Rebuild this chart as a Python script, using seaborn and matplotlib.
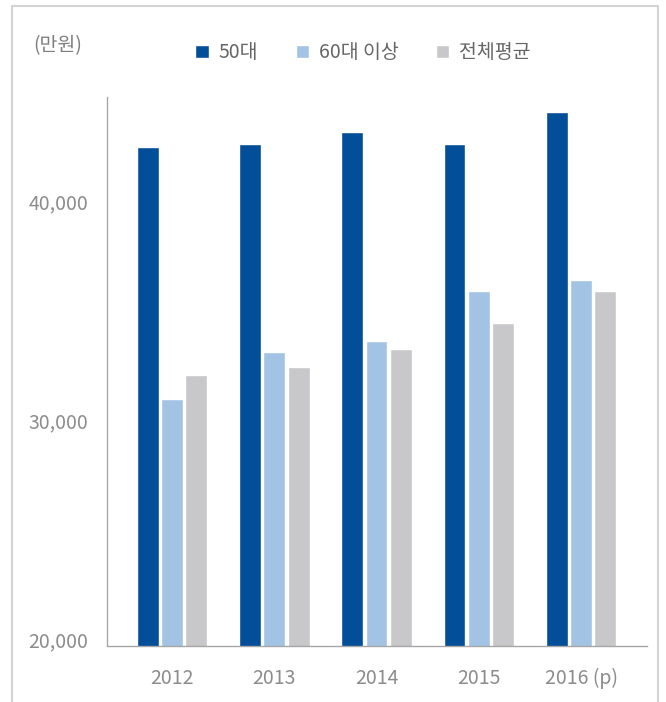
import matplotlib
matplotlib.use("Agg")
import matplotlib.pyplot as plt
from matplotlib.patches import Rectangle
from matplotlib.transforms import ScaledTranslation
import pandas as pd
import seaborn as sns

# 연령대별 가구 평균 (단위: 만원)
years = ["2012", "2013", "2014", "2015", "2016 (p)"]
series_names = ["50대", "60대 이상", "전체평균"]
age50 = [42760, 42900, 43430, 42900, 44350]
age60_plus = [31260, 33390, 33920, 36170, 36690]
overall = [32340, 32730, 33520, 34710, 36170]
y_ticks = [20000, 30000, 40000]
y_tick_labels = ["20,000", "30,000", "40,000"]
unit_label = "(만원)"

colors = ["#024E98", "#A3C3E5", "#C8C8CA"]

df = pd.DataFrame({
    "연도": years * 3,
    "구분": [series_names[0]] * 5 + [series_names[1]] * 5 + [series_names[2]] * 5,
    "값": age50 + age60_plus + overall,
})

sns.set_theme(style="white")
plt.rcParams["font.family"] = ["Noto Sans CJK KR", "DejaVu Sans"]

fig = plt.figure(figsize=(6.66, 7.02), dpi=100)
ax = fig.add_axes([107 / 666, 1 - 645.5 / 702, (647 - 107) / 666, (645.5 - 97) / 702])

sns.barplot(data=df, x="연도", y="값", hue="구분", palette=colors,
            width=0.714, gap=0.1, saturation=1, ax=ax, errorbar=None)

ax.set_ylim(20000, 45046)
ax.set_xlim(-0.636, 4.645)
ax.set_xlabel("")
ax.set_ylabel("")
ax.set_yticks(y_ticks)
ax.set_yticklabels(y_tick_labels)
ax.tick_params(axis="both", length=0, labelsize=14, labelcolor="#8C8C8C")
ax.tick_params(axis="y", pad=13.5)
ax.tick_params(axis="x", pad=16)

# lift the value labels slightly above their ticks
for lab in ax.get_yticklabels():
    lab.set_transform(lab.get_transform() + ScaledTranslation(0, 6 / 100, fig.dpi_scale_trans))

for side in ["top", "right"]:
    ax.spines[side].set_visible(False)
for side in ["left", "bottom"]:
    ax.spines[side].set_color("#A6A6A6")
    ax.spines[side].set_linewidth(1.0)

handles, labels = ax.get_legend_handles_labels()
ax.legend(handles, labels, loc="center", bbox_to_anchor=(363 / 666, 1 - 53 / 702),
          bbox_transform=fig.transFigure, ncol=3, frameon=False, fontsize=14,
          handlelength=0.68, handleheight=0.68, handletextpad=0.5,
          columnspacing=1.95, labelcolor="#666666")

fig.text(33 / 666, 1 - 46 / 702, unit_label, ha="left", va="center",
         fontsize=14, color="#7F7F7F")

# outer frame around the figure
fig.patches.append(Rectangle((12 / 666, -0.05), (658 - 12) / 666, (1 - 6 / 702) + 0.05,
                             transform=fig.transFigure, fill=False,
                             edgecolor="#D3D3D3", linewidth=1.5))

fig.savefig("out.png", dpi=100)
